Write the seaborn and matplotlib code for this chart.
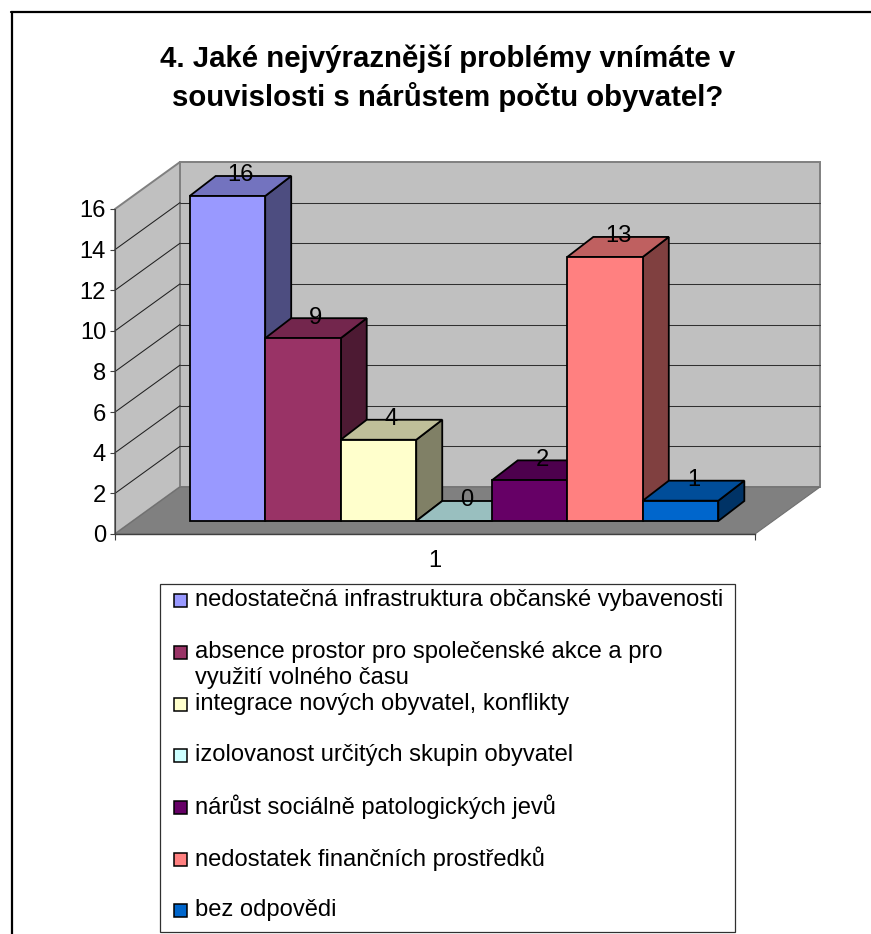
import matplotlib
matplotlib.use("Agg")
import matplotlib.pyplot as plt
import matplotlib.colors as mc
from matplotlib.patches import Polygon, Rectangle
from matplotlib.lines import Line2D
from matplotlib.transforms import Affine2D, IdentityTransform
import seaborn as sns
import pandas as pd

TITLE = "4. Jaké nejvýraznější problémy vnímáte v\nsouvislosti s nárůstem počtu obyvatel?"
categories = [
    "nedostatečná infrastruktura občanské vybavenosti",
    "absence prostor pro společenské akce a pro\nvyužití volného času",
    "integrace nových obyvatel, konflikty",
    "izolovanost určitých skupin obyvatel",
    "nárůst sociálně patologických jevů",
    "nedostatek finančních prostředků",
    "bez odpovědi",
]
values = [16, 9, 4, 0, 2, 13, 1]
colors = ["#9999FF", "#993366", "#FFFFCC", "#CCFFFF", "#660066", "#FF8080", "#0066CC"]
group = ["1"] * len(values)
yticks = [0, 2, 4, 6, 8, 10, 12, 14, 16]

W, H = 871, 934
sns.set_theme(style="white")
plt.rcParams["font.family"] = ["Liberation Sans", "DejaVu Sans"]
FS = 17.1
fig = plt.figure(figsize=(W / 100, H / 100), dpi=100, facecolor="white")


def fx(x):
    return x / W


def fy(y):
    return 1 - y / H


# front plane of the axis box
ax = fig.add_axes([fx(115), fy(534), (755 - 115) / W, (534 - 209) / H])
df = pd.DataFrame({"group": group, "cat": categories, "val": values})
sns.barplot(data=df, x="group", y="val", hue="cat", hue_order=categories,
            palette=colors, width=0.826, legend=False, ax=ax, saturation=1)
ax.set_xlim(-0.5, 0.5)
ax.set_ylim(0, 16)
ax.set_xlabel("")
ax.set_ylabel("")
ax.patch.set_visible(False)
for s in ["top", "right", "left"]:
    ax.spines[s].set_visible(False)
ax.spines["bottom"].set_color("#404040")
ax.spines["bottom"].set_linewidth(1)
ax.spines["bottom"].set_zorder(3)

ax.set_yticks(yticks)
ax.set_xticks([-0.5, 0.5])
ax.set_xticklabels(["", ""])
ax.set_xticks([0], minor=True)
ax.set_xticklabels(["1"], minor=True, fontsize=FS, color="black")
ax.tick_params(axis="x", which="major", length=4.5, width=0.8, color="#404040", bottom=True)
ax.tick_params(axis="x", which="minor", length=0, pad=11.5)
ax.tick_params(axis="y", length=3.6, width=0.8, color="#404040", left=True, pad=2.8,
               labelsize=FS, labelcolor="black")
ax.plot([-0.5, -0.5], [0, 16], color="#404040", lw=0.8, clip_on=False, zorder=3)

WALL = (65, 47)
BAR_SHIFT = (19, 13)
BAR_DEPTH = (26, 20)
ident = IdentityTransform()


def disp(x, y, off=(0, 0)):
    px, py = ax.transData.transform((x, y))
    return (px + off[0], py + off[1])


def poly(pts, fc, ec, lw, z):
    ax.add_patch(Polygon(pts, closed=True, facecolor=fc, edgecolor=ec, linewidth=lw,
                         transform=ident, clip_on=False, zorder=z, joinstyle="miter"))


# walls and floor
poly([disp(-.5, 0, WALL), disp(.5, 0, WALL), disp(.5, 16, WALL), disp(-.5, 16, WALL)],
     "#C0C0C0", "#808080", 1.4, 0.1)
poly([disp(-.5, 0), disp(-.5, 16), disp(-.5, 16, WALL), disp(-.5, 0, WALL)],
     "#C0C0C0", "#808080", 1.4, 0.2)
poly([disp(-.5, 0), disp(.5, 0), disp(.5, 0, WALL), disp(-.5, 0, WALL)],
     "#808080", "#707070", 0.8, 0.3)
for v in yticks[1:-1]:
    ax.add_line(Line2D(*zip(disp(-.5, v), disp(-.5, v, WALL)), color="#202020", lw=0.75,
                       transform=ident, clip_on=False, zorder=0.4))
    ax.add_line(Line2D(*zip(disp(-.5, v, WALL), disp(.5, v, WALL)), color="#303030", lw=0.75,
                       transform=ident, clip_on=False, zorder=0.4))

# 3D look for each bar, derived from the bar seaborn drew
bars = [p for p in ax.patches if isinstance(p, Rectangle)][:len(values)]
shift = ax.transData + Affine2D().translate(*BAR_SHIFT)
for i, (bar, v, c) in enumerate(zip(bars, values, colors)):
    x0, x1 = bar.get_x(), bar.get_x() + bar.get_width()
    z = 1 + i
    rgb = mc.to_rgb(c)
    side = tuple(k * 0.5 for k in rgb)
    top = tuple(k * 0.75 for k in rgb)
    s0 = BAR_SHIFT
    s1 = (BAR_SHIFT[0] + BAR_DEPTH[0], BAR_SHIFT[1] + BAR_DEPTH[1])
    poly([disp(x1, 0, s0), disp(x1, v, s0), disp(x1, v, s1), disp(x1, 0, s1)], side, "black", 1.3, z)
    poly([disp(x0, v, s0), disp(x1, v, s0), disp(x1, v, s1), disp(x0, v, s1)], top, "black", 1.3, z)
    bar.set_transform(shift)
    bar.set_clip_on(False)
    bar.set_edgecolor("black")
    bar.set_linewidth(1.3)
    bar.set_zorder(z + 0.5)
    lx, ly = disp((x0 + x1) / 2, v, (s0[0] + 13, s1[1]))
    ax.text(lx, ly + 0.5, str(v), transform=ident, ha="center", va="center",
            fontsize=FS, color="black", zorder=20, clip_on=False)

# chart area border
fig.add_artist(Line2D([fx(11.5), fx(11.5)], [fy(934), fy(12)], color="black", lw=1.6))
fig.add_artist(Line2D([fx(11), fx(871)], [fy(12), fy(12)], color="black", lw=1.6))

# title
fig.suptitle(TITLE, x=fx(448), y=fy(78.5), ha="center", va="center", fontsize=21.2,
             fontweight="bold", color="black", linespacing=1.38)

# legend box
fig.add_artist(Rectangle((fx(160), fy(932)), (735 - 160) / W, (932 - 584) / H, facecolor="white",
                         edgecolor="#303030", linewidth=0.9, transform=fig.transFigure))
rows = [600, 652, 704, 755, 807, 859, 910]
for lab, c, yy in zip(categories, colors, rows):
    fig.add_artist(Rectangle((fx(173.5), fy(yy + 7)), 13 / W, 13 / H, facecolor=c, edgecolor="black",
                             linewidth=1.1, transform=fig.transFigure))
    for j, line in enumerate(lab.split("\n")):
        fig.text(fx(195), fy(yy + j * 26), line, ha="left", va="center", fontsize=FS, color="black")

fig.savefig("out.png", dpi=100, facecolor="white")
